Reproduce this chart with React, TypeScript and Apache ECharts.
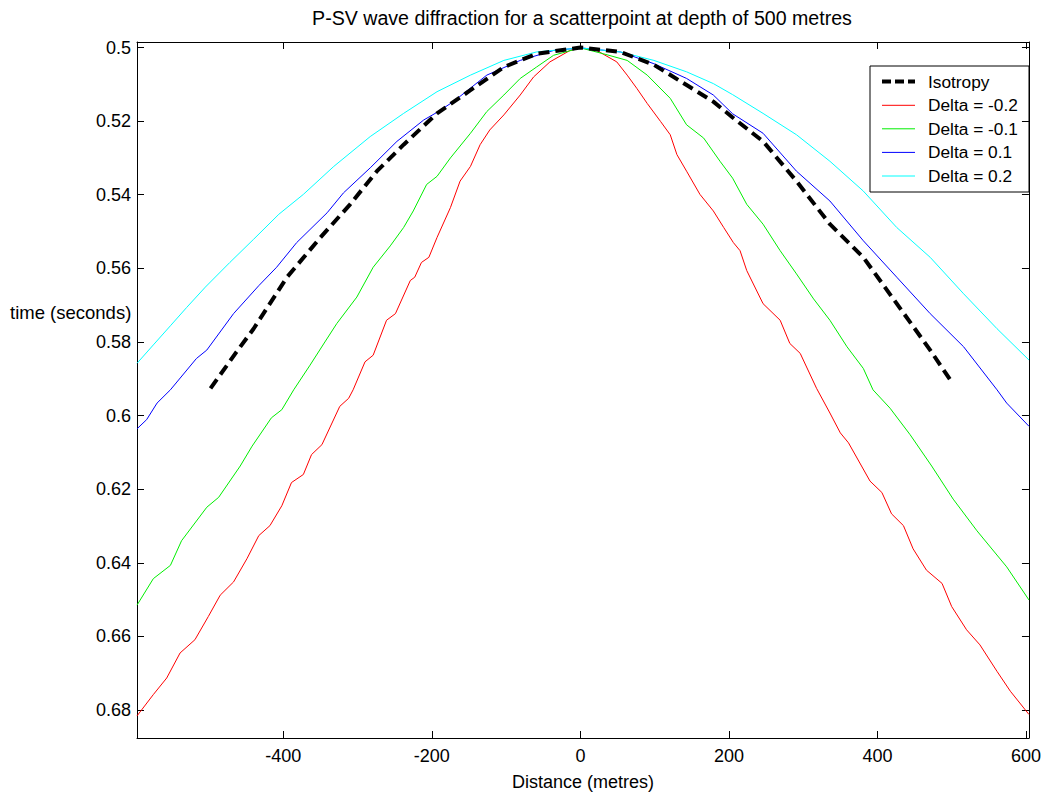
import React, { useEffect, useRef } from "react";
import * as echarts from "echarts";

const TITLE = "P-SV wave diffraction for a scatterpoint at depth of 500 metres";
const X_NAME = "Distance (metres)";
const Y_NAME = "time (seconds)";
const X_TICKS = [-400, -200, 0, 200, 400, 600];
const Y_TICKS = [0.5, 0.52, 0.54, 0.56, 0.58, 0.6, 0.62, 0.64, 0.66, 0.68];
const X_MIN = -597;
const X_MAX = 604;
const Y_MIN = 0.4985;
const Y_MAX = 0.6876;

const SERIES_NAMES = ["Isotropy", "Delta = -0.2", "Delta = -0.1", "Delta = 0.1", "Delta = 0.2"];
const SERIES_COLORS = ["#000000", "#ff0000", "#00ee00", "#0000ff", "#00ffff"];

const isotropy = [
  [-498, 0.5926], [-463, 0.5827], [-440, 0.5764], [-395, 0.5624], [-350, 0.5516], [-310, 0.5426],
  [-274, 0.5336], [-238, 0.5264], [-193, 0.5179], [-148, 0.5116], [-103, 0.5053], [-59, 0.5017],
  [0, 0.5], [54, 0.5012], [99, 0.5047], [143, 0.5102], [179, 0.5147], [205, 0.519], [246, 0.5255],
  [291, 0.5363], [336, 0.548], [381, 0.557], [426, 0.5696], [471, 0.5822], [498, 0.5903],
];

const deltaM02 = [
  [-597, 0.6816], [-575, 0.6758], [-557, 0.6713], [-539, 0.6645], [-519, 0.6609], [-501, 0.6546],
  [-485, 0.6488], [-467, 0.6452], [-449, 0.6389], [-433, 0.6326], [-418, 0.6299], [-402, 0.6245],
  [-389, 0.6182], [-373, 0.616], [-362, 0.6106], [-348, 0.6079], [-324, 0.5975], [-312, 0.5953],
  [-306, 0.593], [-290, 0.5854], [-279, 0.5836], [-261, 0.5741], [-249, 0.5723], [-229, 0.5633],
  [-223, 0.5624], [-214, 0.5584], [-204, 0.557], [-193, 0.5516], [-175, 0.5435], [-162, 0.5363],
  [-148, 0.5323], [-135, 0.5264], [-122, 0.5224], [-103, 0.5183], [-81, 0.5129], [-63, 0.508],
  [-41, 0.5039], [-14, 0.5008], [0, 0.5001], [22, 0.5008], [49, 0.5039], [63, 0.5075], [76, 0.5111],
  [90, 0.5152], [108, 0.5201], [121, 0.5237], [130, 0.5291], [143, 0.5336], [161, 0.5399],
  [179, 0.5444], [193, 0.5489], [206, 0.553], [215, 0.5552], [224, 0.5606], [246, 0.5696],
  [269, 0.5741], [282, 0.5804], [296, 0.5831], [318, 0.5926], [336, 0.5993], [350, 0.6047],
  [361, 0.6074], [390, 0.6178], [406, 0.6209], [419, 0.6267], [435, 0.6299], [448, 0.6362],
  [466, 0.642], [487, 0.6456], [500, 0.6519], [520, 0.6582], [538, 0.6623], [561, 0.6695],
  [579, 0.6749], [604, 0.6812],
];

const deltaM01 = [
  [-597, 0.6515], [-575, 0.6443], [-552, 0.6407], [-537, 0.634], [-503, 0.6249], [-487, 0.6222],
  [-458, 0.6137], [-442, 0.6083], [-416, 0.6006], [-402, 0.5984], [-386, 0.593], [-364, 0.5863],
  [-344, 0.58], [-328, 0.575], [-301, 0.5678], [-279, 0.5597], [-256, 0.5539], [-238, 0.5489],
  [-225, 0.5444], [-207, 0.5372], [-193, 0.535], [-175, 0.53], [-148, 0.5233], [-126, 0.5174],
  [-103, 0.5129], [-81, 0.5084], [-59, 0.5053], [-36, 0.5021], [0, 0.5001], [31, 0.5017],
  [63, 0.5035], [90, 0.5075], [121, 0.5138], [143, 0.521], [166, 0.5246], [188, 0.5309],
  [205, 0.5355], [224, 0.5426], [246, 0.548], [269, 0.5552], [291, 0.5615], [314, 0.5683],
  [336, 0.5741], [359, 0.5813], [381, 0.5872], [394, 0.593], [417, 0.598], [444, 0.6052],
  [473, 0.6137], [502, 0.6227], [534, 0.6313], [574, 0.6411], [604, 0.6501],
];

const deltaP01 = [
  [-597, 0.6036], [-584, 0.6011], [-570, 0.5966], [-552, 0.593], [-517, 0.5845], [-503, 0.5822],
  [-467, 0.5723], [-433, 0.5647], [-409, 0.5597], [-382, 0.553], [-341, 0.5449], [-319, 0.5395],
  [-283, 0.5327], [-247, 0.5255], [-211, 0.5197], [-193, 0.5176], [-171, 0.5147], [-126, 0.5075],
  [-81, 0.5035], [-36, 0.5008], [0, 0.5001], [54, 0.5012], [99, 0.5044], [143, 0.5084],
  [179, 0.5129], [205, 0.518], [246, 0.5233], [291, 0.5336], [336, 0.5417], [381, 0.5525],
  [426, 0.5624], [471, 0.5723], [516, 0.5813], [561, 0.593], [574, 0.5966], [604, 0.6029],
];

const deltaP02 = [
  [-597, 0.5858], [-575, 0.5808], [-552, 0.5756], [-530, 0.5706], [-505, 0.5651], [-472, 0.5584],
  [-440, 0.5521], [-406, 0.5453], [-373, 0.5399], [-332, 0.5323], [-283, 0.5242], [-238, 0.5179],
  [-193, 0.512], [-148, 0.5075], [-103, 0.5035], [-59, 0.5012], [0, 0.5001], [54, 0.5012],
  [99, 0.5035], [143, 0.5066], [179, 0.5098], [205, 0.5128], [246, 0.5179], [291, 0.5237],
  [336, 0.5309], [381, 0.539], [426, 0.5489], [471, 0.557], [516, 0.5669], [561, 0.5764],
  [604, 0.5849],
];

const SERIES_DATA = [isotropy, deltaM02, deltaM01, deltaP01, deltaP02];

const FONT = "Liberation Sans, Arial, Helvetica, sans-serif";

export default function App() {
  const ref = useRef<HTMLDivElement>(null);
  useEffect(() => {
    if (!ref.current) return;
    const chart = echarts.init(ref.current, undefined, { renderer: "svg" });

    const gridL = 137, gridT = 42, gridW = 892, gridH = 700;

    const axisCommon = {
      type: "value",
      splitLine: { show: false },
      axisLine: { show: true, onZero: false, lineStyle: { color: "#000", width: 1 } },
      axisTick: { show: true, inside: true, length: 7, lineStyle: { color: "#000", width: 1 } },
    };

    const legendX = 870, legendY = 66, legendW = 159, legendH = 126;
    const rowY = [81.5, 105.3, 128.8, 152.4, 176];
    const legendChildren: any[] = [
      {
        type: "rect",
        shape: { x: legendX, y: legendY, width: legendW, height: legendH },
        style: { fill: "#fff", stroke: "#000", lineWidth: 1 },
      },
    ];
    SERIES_NAMES.forEach((name, i) => {
      legendChildren.push({
        type: "line",
        shape: { x1: 882, y1: rowY[i], x2: 915, y2: rowY[i] },
        style: {
          stroke: SERIES_COLORS[i],
          lineWidth: i === 0 ? 4 : 1,
          lineDash: i === 0 ? [9, 4] : null,
        },
      });
      legendChildren.push({
        type: "text",
        x: 928,
        y: rowY[i],
        style: {
          text: name,
          fill: "#000",
          font: `17.3px ${FONT}`,
          textVerticalAlign: "middle",
          verticalAlign: "middle",
        },
      });
    });

    chart.setOption({
      animation: false,
      backgroundColor: "#fff",
      grid: { left: gridL, top: gridT, width: gridW, height: gridH, containLabel: false },
      xAxis: [
        {
          ...axisCommon,
          position: "bottom",
          min: X_MIN,
          max: X_MAX,
          axisTick: { ...axisCommon.axisTick, customValues: X_TICKS },
          axisLabel: {
            customValues: X_TICKS,
            color: "#000",
            fontSize: 18,
            fontFamily: FONT,
            margin: 9,
          },
          name: X_NAME,
          nameLocation: "middle",
          nameGap: 35,
          nameTextStyle: { color: "#000", fontSize: 18, fontFamily: FONT },
        },
        {
          ...axisCommon,
          position: "top",
          min: X_MIN,
          max: X_MAX,
          axisTick: { ...axisCommon.axisTick, customValues: X_TICKS },
          axisLabel: { show: false },
        },
      ],
      yAxis: [
        {
          ...axisCommon,
          position: "left",
          inverse: true,
          min: Y_MIN,
          max: Y_MAX,
          axisTick: { ...axisCommon.axisTick, customValues: Y_TICKS },
          axisLabel: {
            customValues: Y_TICKS,
            color: "#000",
            fontSize: 18,
            fontFamily: FONT,
            margin: 6,
            formatter: (v: number) => String(+v.toFixed(2)),
          },
        },
        {
          ...axisCommon,
          position: "right",
          inverse: true,
          min: Y_MIN,
          max: Y_MAX,
          axisTick: { ...axisCommon.axisTick, customValues: Y_TICKS },
          axisLabel: { show: false },
        },
      ],
      series: SERIES_DATA.map((data, i) => ({
        type: "line",
        name: SERIES_NAMES[i],
        data,
        xAxisIndex: 0,
        yAxisIndex: 0,
        showSymbol: false,
        symbol: "none",
        clip: true,
        z: i === 0 ? 3 : 2,
        lineStyle: {
          color: SERIES_COLORS[i],
          width: i === 0 ? 4 : 1,
          type: i === 0 ? [11, 6] : "solid",
        },
        itemStyle: { color: SERIES_COLORS[i] },
      })),
      graphic: [
        {
          type: "text",
          x: 582,
          y: 18,
          style: {
            text: TITLE,
            fill: "#000",
            font: `19.6px ${FONT}`,
            textAlign: "center",
            textVerticalAlign: "middle",
            align: "center",
            verticalAlign: "middle",
          },
        },
        {
          type: "text",
          x: 10,
          y: 312,
          style: {
            text: Y_NAME,
            fill: "#000",
            font: `18.5px ${FONT}`,
            textVerticalAlign: "middle",
            verticalAlign: "middle",
          },
        },
        { type: "group", children: legendChildren, z: 100 },
      ],
    });

    return () => chart.dispose();
  }, []);

  return (
    <div
      ref={ref}
      style={{ position: "fixed", left: 0, top: 0, width: 1044, height: 796, background: "#fff" }}
    />
  );
}
